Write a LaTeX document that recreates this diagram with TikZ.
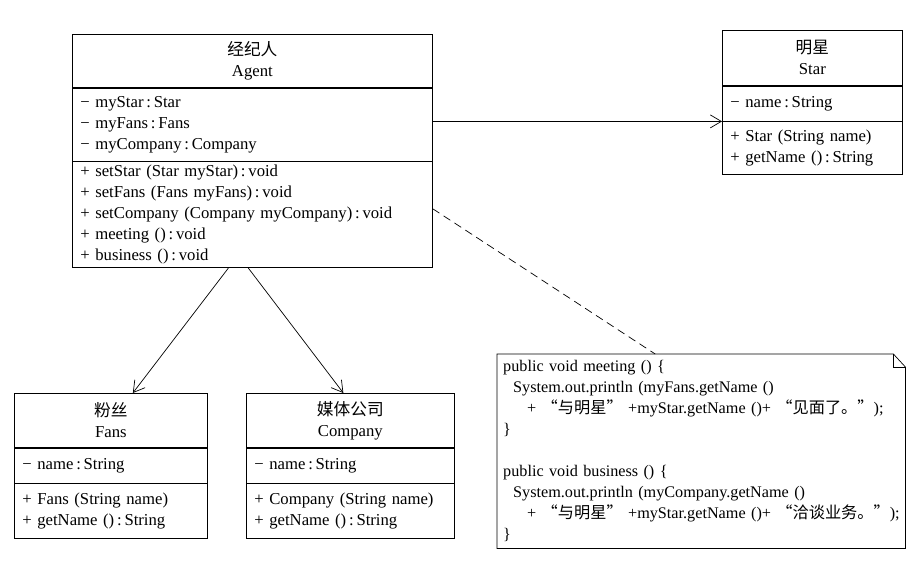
\documentclass[tikz,border=0pt]{standalone}
\usepackage{fontspec}
\setmainfont{Liberation Serif}
\newfontfamily\cjk{Noto Sans CJK SC}
\usetikzlibrary{positioning, arrows.meta}

\begin{document}
\begin{tikzpicture}[x=1pt, y=-1pt,
    every node/.style={font=\fontsize{16.7}{21}\selectfont},
    cls/.style={draw, line width=0.7pt, inner xsep=8pt, inner ysep=0pt},
    clsname/.style={cls, align=center},
    clspart/.style={cls, align=left},
    assoc/.style={-{Straight Barb[length=11pt, width=13pt]}, line width=0.7pt},
    dep/.style={line width=0.7pt, dash pattern=on 8pt off 5pt}
]
\useasboundingbox (0,0) rectangle (923,581);

% Agent
\node[clsname, text width=344pt, minimum height=53pt, anchor=north west] (agent) at (72,34) {{\cjk 经纪人}\\Agent};
\node[clspart, text width=344pt, minimum height=73pt, below=0pt of agent] (agentattr) {− myStar\,:\,Star\\− myFans\,:\,Fans\\− myCompany\,:\,Company};
\node[clspart, text width=344pt, minimum height=106pt, below=0pt of agentattr] (agentops) {+ setStar (Star myStar)\,:\,void\\+ setFans (Fans myFans)\,:\,void\\+ setCompany (Company myCompany)\,:\,void\\+ meeting ()\,:\,void\\+ business ()\,:\,void};

% Star
\node[clsname, text width=164pt, minimum height=55pt, anchor=north west] (star) at (722,30) {{\cjk 明星}\\Star};
\node[clspart, text width=164pt, minimum height=35pt, below=0pt of star] (starattr) {− name\,:\,String};
\node[clspart, text width=164pt, minimum height=53pt, below=0pt of starattr] (starops) {+ Star (String name)\\+ getName ()\,:\,String};

% Fans
\node[clsname, text width=177pt, minimum height=54pt, anchor=north west] (fans) at (14,393) {{\cjk 粉丝}\\Fans};
\node[clspart, text width=177pt, minimum height=35pt, below=0pt of fans] (fansattr) {− name\,:\,String};
\node[clspart, text width=177pt, minimum height=55pt, below=0pt of fansattr] (fansops) {+ Fans (String name)\\+ getName ()\,:\,String};

% Company
\node[clsname, text width=192pt, minimum height=54pt, anchor=north west] (company) at (246,393) {{\cjk 媒体公司}\\Company};
\node[clspart, text width=192pt, minimum height=35pt, below=0pt of company] (companyattr) {− name\,:\,String};
\node[clspart, text width=192pt, minimum height=55pt, below=0pt of companyattr] (companyops) {+ Company (String name)\\+ getName ()\,:\,String};

% Note
\node[align=left, text width=400pt, inner xsep=4pt, minimum height=194pt, anchor=north west, font=\fontsize{16.2}{21}\selectfont] (note) at (497,354) {%
\hspace*{2pt}public void meeting () \{\\
\hspace*{12pt}System.out.println (myFans.getName ()\\
\hspace*{26pt}+ {\cjk “与明星”} +myStar.getName ()+ {\cjk “见面了。”});\\
\hspace*{2pt}\}\\[21pt]
\hspace*{2pt}public void business () \{\\
\hspace*{12pt}System.out.println (myCompany.getName ()\\
\hspace*{26pt}+ {\cjk “与明星”} +myStar.getName ()+ {\cjk “洽谈业务。”});\\
\hspace*{2pt}\}};
\draw[line width=0.7pt] (note.north west) -- ([xshift=-12pt]note.north east) -- ([yshift=-13pt]note.north east) -- (note.south east) -- (note.south west) -- cycle;
\draw[line width=0.7pt] ([xshift=-12pt]note.north east) |- ([yshift=-13pt]note.north east);

% Arrows
\draw[assoc] (agentattr.east |- starattr.south) -- (starattr.south west);
\draw[assoc] ([xshift=-24pt]agentops.south) -- ([xshift=22pt]fans.north);
\draw[assoc] ([xshift=-4pt]agentops.south) -- ([xshift=-7pt]company.north);
\draw[dep] ([yshift=6pt]agentops.east) -- ([xshift=-46pt]note.north);

\end{tikzpicture}
\end{document}
